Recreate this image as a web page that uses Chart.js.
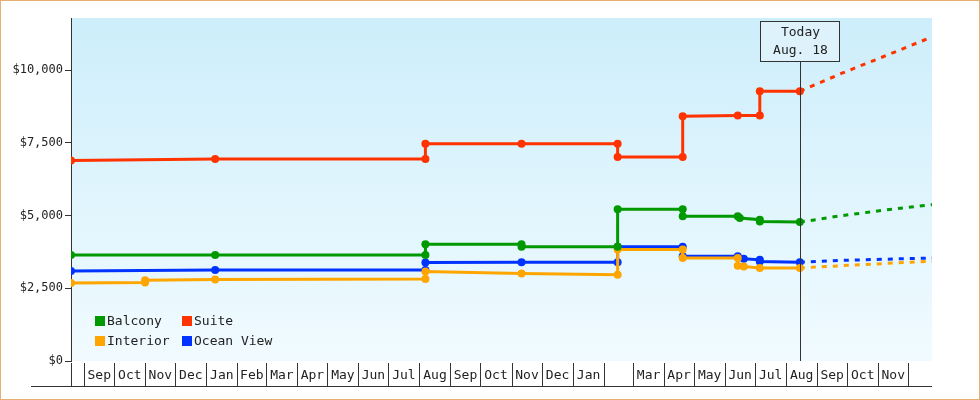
<!DOCTYPE html><html><head><meta charset="utf-8">
<script src="https://cdn.jsdelivr.net/npm/chart.js@4"></script>
<style>html,body{margin:0;padding:0;background:#fff}#w{width:978px;height:398px;border:1px solid #e8b070;position:relative}</style>
</head><body><div id="w"><canvas id="c" width="978" height="398"></canvas></div>
<script>
// x values: days since Aug 19 (year 1)
const monthLabels=["Sep","Oct","Nov","Dec","Jan","Feb","Mar","Apr","May","Jun","Jul","Aug","Sep","Oct","Nov","Dec","Jan","","Mar","Apr","May","Jun","Jul","Aug","Sep","Oct","Nov"];
const monthStarts=[13,43,74,104,135,166,195,226,256,287,317,348,379,409,440,470,501,532,561,592,622,653,683,714,745,775,806,836];
const suiteX=[0,144,354,354,450,546,546,611,611,666,688,688,728];
const suiteY=[6900,6950,6950,7470,7470,7470,7020,7020,8420,8450,8450,9280,9280];
const balconyX=[0,144,354,354,450,450,546,546,611,611,666,668,688,688,728];
const balconyY=[3650,3650,3650,4020,4020,3930,3930,5220,5220,4980,4980,4920,4860,4800,4780];
const oceanX=[0,144,354,354,450,546,546,611,611,666,672,688,688,728];
const oceanY=[3100,3130,3130,3390,3400,3400,3930,3930,3600,3600,3520,3480,3420,3400];
const interiorX=[0,74,74,144,354,354,450,546,546,611,611,666,666,672,688,728];
const interiorY=[2680,2700,2780,2800,2820,3080,3010,2970,3840,3840,3540,3540,3280,3250,3200,3200];
const fcX=[728,770,810,860];
const suiteFc=[9280,9900,10450,11150];
const balconyFc=[4780,5000,5180,5380];
const oceanFc=[3400,3460,3500,3540];
const interiorFc=[3200,3280,3350,3430];
const todayX=728;
const pts=(xs,ys)=>xs.map((x,i)=>({x,y:ys[i]}));
const cols={Balcony:'#009900',Suite:'#ff3300',Interior:'#ffa500','Ocean View':'#0033ff'};
function ds(label,xs,ys,c){return{label,data:pts(xs,ys),borderColor:c,backgroundColor:c,borderWidth:3,pointRadius:4,pointStyle:'circle',pointBorderWidth:0,tension:0}}
function fc(ys,c){return{label:'',data:pts(fcX,ys),borderColor:c,borderWidth:3,borderDash:[5,6],pointRadius:0,tension:0}}
const F='"DejaVu Sans Mono", monospace';
const bg={id:'bg',beforeDraw(ch){const a=ch.chartArea,x=ch.ctx;const g=x.createLinearGradient(0,a.top,0,a.bottom);g.addColorStop(0,'#cdeefb');g.addColorStop(1,'#f1fbff');x.fillStyle=g;x.fillRect(a.left,a.top,a.right-a.left,a.bottom-a.top);}};
const deco={id:'deco',afterDraw(ch){const x=ch.ctx,a=ch.chartArea,xs=ch.scales.x;x.save();x.strokeStyle='#333';x.lineWidth=1;x.font='13px '+F;x.fillStyle='#222';x.textAlign='center';x.textBaseline='middle';
const top=a.bottom+2,bot=a.bottom+25;x.beginPath();x.moveTo(a.left-40,bot+0.5);x.lineTo(a.right,bot+0.5);x.stroke();
x.beginPath();x.moveTo(a.left+0.5,top);x.lineTo(a.left+0.5,bot);x.stroke();
for(let i=0;i<monthStarts.length;i++){const p=Math.round(xs.getPixelForValue(monthStarts[i]))+0.5;if(p<a.right){x.beginPath();x.moveTo(p,top);x.lineTo(p,bot);x.stroke();}
if(i<monthLabels.length){const q=xs.getPixelForValue(monthStarts[i+1]);x.fillText(monthLabels[i],(p+q)/2,(top+bot)/2+1);}}
const tx=Math.round(xs.getPixelForValue(todayX))+0.5;x.beginPath();x.moveTo(tx,60);x.lineTo(tx,a.bottom);x.stroke();
x.fillStyle='#ddf2fb';x.fillRect(tx-40,20.5,79,40);x.strokeRect(tx-40,20.5,79,40);x.fillStyle='#222';x.fillText('Today',tx,32);x.fillText('Aug. 18',tx,50);
const L=[['Balcony',94,320],['Suite',181,320],['Interior',94,340],['Ocean View',181,340]];x.textAlign='left';
L.forEach(([t,lx,ly])=>{x.fillStyle=cols[t];x.fillRect(lx,ly-5,10,10);x.fillStyle='#222';x.fillText(t,lx+12,ly+1);});
x.restore();}};
new Chart(document.getElementById('c'),{type:'line',data:{datasets:[ds('Balcony',balconyX,balconyY,cols.Balcony),ds('Suite',suiteX,suiteY,cols.Suite),ds('Interior',interiorX,interiorY,cols.Interior),ds('Ocean View',oceanX,oceanY,cols['Ocean View']),fc(suiteFc,cols.Suite),fc(balconyFc,cols.Balcony),fc(oceanFc,cols['Ocean View']),fc(interiorFc,cols.Interior)]},
options:{responsive:false,animation:false,layout:{padding:{top:17,right:47,left:0,bottom:0}},plugins:{legend:{display:false},tooltip:{enabled:false}},
scales:{x:{type:'linear',min:0,max:860,grid:{display:false},border:{display:false},ticks:{display:false},afterFit(s){s.height=38;}},
y:{min:0,max:11800,afterFit(s){s.width=70;},border:{color:'#333',width:1},grid:{display:true,drawOnChartArea:false,drawTicks:true,tickLength:6,color:'#333'},
afterBuildTicks(s){s.ticks=[0,2500,5000,7500,10000].map(v=>({value:v}));},
ticks:{font:{family:F,size:12},color:'#222',padding:2,callback:v=>'$'+v.toLocaleString('en-US')}}}},plugins:[bg,deco]});
</script></body></html>
